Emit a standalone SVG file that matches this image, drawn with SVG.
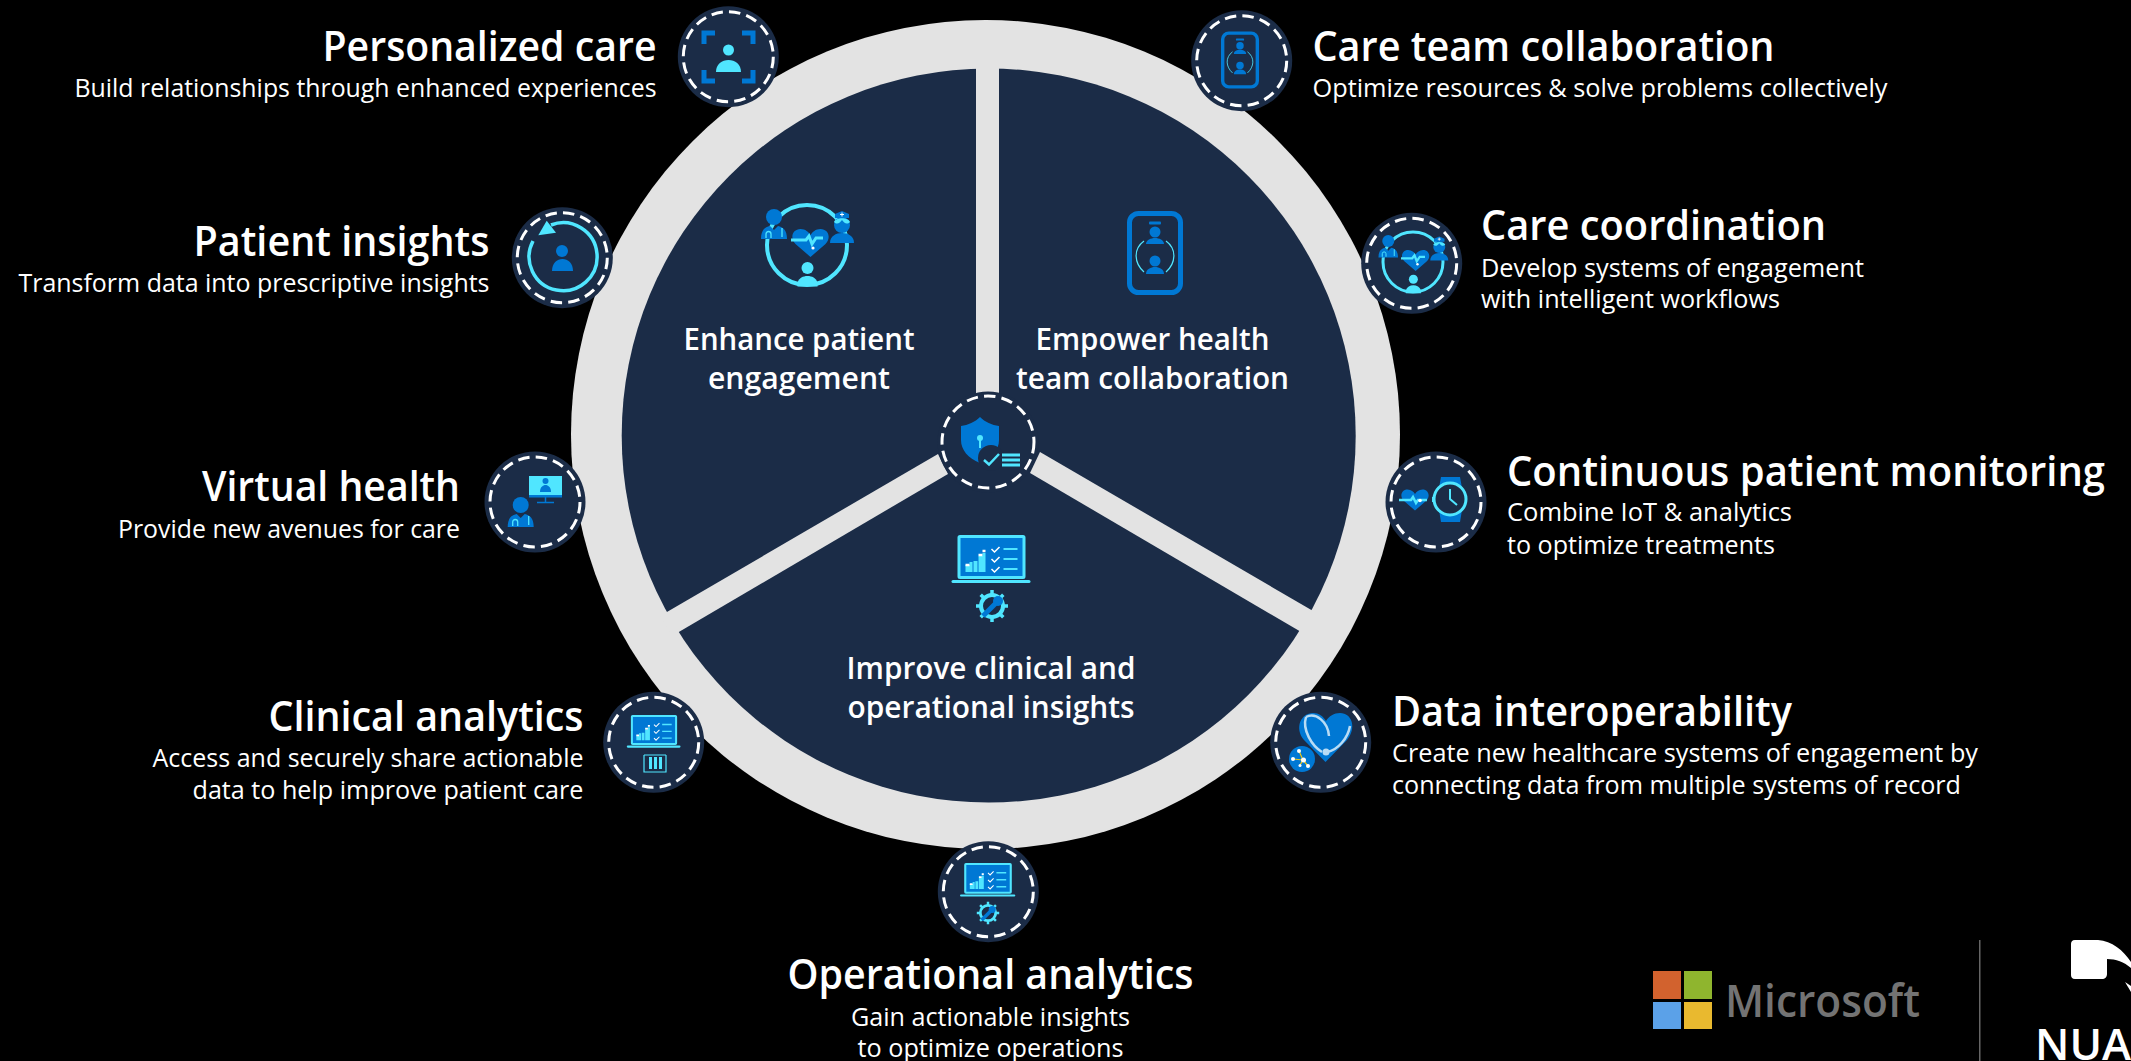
<svg xmlns="http://www.w3.org/2000/svg" width="2131" height="1061" viewBox="0 0 2131 1061">
<style>
text{font-family:"Open Sans","Noto Sans","Liberation Sans",sans-serif;fill:#fff}
.t{font-size:41px;font-weight:600}
.s{font-size:25.5px;font-weight:400}
.p{font-size:30px;font-weight:600}
.e{text-anchor:end}
.m{text-anchor:middle}
.bg{fill:#1b2c47}
.ds{fill:none;stroke:#fff;stroke-width:3;stroke-dasharray:11.5 6.2}
.c{fill:#50e6ff}
.b{fill:#0078d4}
.cl{fill:none;stroke:#50e6ff}
.bl{fill:none;stroke:#0078d4}
.w{fill:none;stroke:#fff;stroke-width:1.5}
</style>
<defs>
<g id="badge"><circle class="bg" r="50.5"/><circle class="ds" r="45"/></g>
<path id="heart" d="M0,14 L-15,1 C-21,-5 -18,-14 -10,-14 C-5,-14 -2,-11 0,-8 C2,-11 5,-14 10,-14 C18,-14 21,-5 15,1 Z"/>
<g id="doc">
<circle class="b" cy="-13" r="8"/>
<path class="b" d="M-13,9 C-13,0 -9,-3 -4,-4 L0,0 L4,-4 C9,-3 13,0 13,9 Z"/>
<path d="M-8,8 v-4 a2.500,2.500 0 0 1 5,0 v4 M8,-2 v9" fill="none" stroke="#50e6ff" stroke-width="1.300"/>
</g>
<g id="care">
<circle class="cl" r="40" stroke-width="4"/>
<use href="#doc" x="-33" y="-15"/>
<circle class="b" cx="35" cy="-20" r="8"/>
<path class="c" d="M27,-23 C29,-28 41,-28 43,-23 C40,-20 37,-22 35,-25 C33,-22 30,-20 27,-23 Z"/>
<path class="b" d="M28,-27 L28,-31 L35,-34 L42,-31 L42,-27 Z"/>
<path class="b" d="M23,-2 C23,-9 29,-12 35,-12 C41,-12 47,-9 47,-2 Z"/>
<path d="M33,-30.500 h4 M35,-32.500 v4" stroke="#fff" stroke-width="1"/>
<use href="#heart" class="b" x="3.500" y="-2"/>
<path d="M-16,-5 h15 l3,-4 l3,8 l4,-6 h7" fill="none" stroke="#50e6ff" stroke-width="3"/>
<circle cx="6" cy="3" r="1.600" fill="#fff"/>
<circle class="c" cx="0.500" cy="23" r="6"/>
<path class="c" d="M-9.500,41.500 v-4 C-8,33 -4,31 0.500,31 C5,31 9,33 10.500,37.500 v4 Z"/>
</g>
<g id="phone">
<rect class="bl" x="-25.500" y="-39.500" width="51" height="79" rx="9" stroke-width="5"/>
<rect class="b" x="-6" y="-31.500" width="12" height="3" rx="1"/>
<circle class="b" cy="-21" r="5.500"/>
<path class="b" d="M-9,-9 C-9,-13 -4,-15 0,-15 C4,-15 9,-13 9,-9 Z"/>
<circle class="b" cy="8" r="5.500"/>
<path class="b" d="M-9,21 C-9,16 -4,14 0,14 C4,14 9,16 9,21 Z"/>
<path class="cl" stroke-width="1.200" d="M-11,-12 C-22,-4 -21,10 -11,19 M11,-12 C22,-4 21,10 11,19"/>
</g>
<g id="gear">
<circle class="cl" r="11" stroke-width="4"/>
<path d="M0,-16V16M-16,0H16M-11.300,-11.300L11.300,11.300M-11.300,11.300L11.300,-11.300" class="cl" stroke-width="3.500" stroke-dasharray="5 22 5"/>
<path d="M9,-8 L-9,10" class="bl" stroke-width="5"/>
<circle class="b" cx="6" cy="-5" r="5"/>
</g>
<g id="laptop">
<rect class="b" x="-32.500" y="1.500" width="65" height="41" stroke="#50e6ff" stroke-width="3" rx="1"/>
<rect class="c" x="-40" y="45" width="79" height="3" rx="1.500"/>
<path class="c" d="M-26,37 v-7 h4 v-3 h3 v10 Z M-18,37 v-11 h4 V37 Z M-13,37 v-16 h4 v-3 h3 V37 Z"/>
<path d="M-26,30 h4 M-13,20 h4 M-9,16 h3" stroke="#fff" stroke-width="2.500"/>
<path d="M0,14 l3,3 l5,-5 M0,24 l3,3 l5,-5 M0,34 l3,3 l5,-5" class="w"/>
<path d="M12,14 h14 M12,24 h14 M12,34 h14" class="cl" stroke-width="2"/>
</g>
</defs>
<rect width="2131" height="1061" fill="#000"/>

<g id="wheel">
<circle cx="985.500" cy="434.500" r="414.500" fill="#e3e3e3"/>
<circle cx="988.700" cy="435.500" r="367" fill="#1b2c47"/>
<polygon points="976,60 999,60 999,400 976,400" fill="#e3e3e3"/>
<polygon points="1040,452 1320,615 1308,636 1030,473" fill="#e3e3e3"/>
<polygon points="938,454 948,474 672,636 660,616" fill="#e3e3e3"/>
</g>

<g id="panel-enhance">
<use href="#care" x="807" y="245"/>
<text class="p m" x="799" y="350" textLength="231" lengthAdjust="spacingAndGlyphs">Enhance patient</text>
<text class="p m" x="799" y="389" textLength="182" lengthAdjust="spacingAndGlyphs">engagement</text>
</g>
<g id="panel-empower">
<use href="#phone" x="1155" y="253"/>
<text class="p m" x="1152.500" y="350" textLength="234" lengthAdjust="spacingAndGlyphs">Empower health</text>
<text class="p m" x="1152.500" y="389" textLength="273" lengthAdjust="spacingAndGlyphs">team collaboration</text>
</g>
<g id="panel-improve">
<use href="#laptop" x="991.500" y="535"/>
<use href="#gear" x="992" y="606"/>
<text class="p m" x="991" y="679" textLength="289" lengthAdjust="spacingAndGlyphs">Improve clinical and</text>
<text class="p m" x="991" y="718" textLength="287" lengthAdjust="spacingAndGlyphs">operational insights</text>
</g>

<g id="hub">
<circle cx="988" cy="442" r="50.500" class="bg"/>
<circle cx="988" cy="442" r="46" class="ds"/>
<path class="b" d="M980,417 C985,422 992,425 999,426 V440 C999,450 992,458 980,463 C968,458 961,450 961,440 V426 C968,425 975,422 980,417 Z"/>
<circle cx="991" cy="458" r="13" class="bg"/>
<circle class="c" cx="980" cy="438" r="3"/>
<rect class="c" x="979" y="439" width="2" height="9"/>
<path d="M984,460 l5,4.500 l10,-10.500" class="cl" stroke-width="2.500"/>
<path d="M1002,455 h18 M1002,460 h18 M1002,465 h18" class="cl" stroke-width="3"/>
</g>

<g id="node-personalized">
<use href="#badge" x="728.300" y="56.700"/>
<path d="M704,44 V33 H715 M742,33 H753 V44 M704,70 V81 H715 M742,81 H753 V70" class="bl" stroke-width="5"/>
<circle class="c" cx="728.500" cy="50" r="5.500"/>
<path class="c" d="M716,72 C716,64 722,60 728.500,60 C735,60 741,64 741,72 Z"/>
<text class="t e" x="656.500" y="61" textLength="334" lengthAdjust="spacingAndGlyphs">Personalized care</text>
<text class="s e" x="656.500" y="97" textLength="582" lengthAdjust="spacingAndGlyphs">Build relationships through enhanced experiences</text>
</g>
<g id="node-patient-insights">
<use href="#badge" x="562.300" y="257.700"/>
<path d="M551,225 A34,34 0 1 1 533,241" class="cl" stroke-width="3.500"/>
<polygon class="c" points="546.700,220.700 538.300,235.300 556,232.700"/>
<circle class="b" cx="562" cy="251" r="6"/>
<path class="b" d="M552,271 C552,263 557,259 562.500,259 C568,259 573,263 573,271 Z"/>
<text class="t e" x="489.500" y="256" textLength="296" lengthAdjust="spacingAndGlyphs">Patient insights</text>
<text class="s e" x="489.500" y="292" textLength="471" lengthAdjust="spacingAndGlyphs">Transform data into prescriptive insights</text>
</g>
<g id="node-virtual-health">
<use href="#badge" x="535" y="502"/>
<rect class="c" x="529" y="476" width="33" height="19"/>
<rect class="b" x="529" y="495" width="33" height="2.500"/>
<path d="M545.500,497 v5 M537,502.500 h17" class="bl" stroke-width="1.500"/>
<circle class="b" cx="545.500" cy="481" r="3"/>
<path class="b" d="M540,492 C540,487 543,485 545.500,485 C548,485 551,487 551,492 Z"/>
<use href="#doc" x="520.700" y="518"/>
<text class="t e" x="460" y="501" textLength="258" lengthAdjust="spacingAndGlyphs">Virtual health</text>
<text class="s e" x="460" y="538" textLength="342" lengthAdjust="spacingAndGlyphs">Provide new avenues for care</text>
</g>
<g id="node-clinical-analytics">
<use href="#badge" x="653.700" y="742.300"/>
<use href="#laptop" transform="translate(654,715) scale(.68)"/>
<path d="M644,755 V772 H666 V755 M644,755 h22" class="cl" stroke-width="1.200"/>
<path class="c" d="M649,757 h3 v12 h-3 Z M654,757 h3 v12 h-3 Z M659,757 h3 v12 h-3 Z"/>
<text class="t e" x="583.500" y="731" textLength="315" lengthAdjust="spacingAndGlyphs">Clinical analytics</text>
<text class="s e" x="583.500" y="767" textLength="431" lengthAdjust="spacingAndGlyphs">Access and securely share actionable</text>
<text class="s e" x="583.500" y="799" textLength="391" lengthAdjust="spacingAndGlyphs">data to help improve patient care</text>
</g>
<g id="node-care-team">
<use href="#badge" x="1241.700" y="60.700"/>
<use href="#phone" transform="translate(1240,60) scale(.68)"/>
<text class="t" x="1312.500" y="61" textLength="462" lengthAdjust="spacingAndGlyphs">Care team collaboration</text>
<text class="s" x="1312.500" y="97" textLength="575" lengthAdjust="spacingAndGlyphs">Optimize resources &amp; solve problems collectively</text>
</g>
<g id="node-care-coordination">
<use href="#badge" x="1411.700" y="263.300"/>
<use href="#care" transform="translate(1413,262) scale(.75)"/>
<text class="t" x="1481" y="240" textLength="345" lengthAdjust="spacingAndGlyphs">Care coordination</text>
<text class="s" x="1481" y="277" textLength="383" lengthAdjust="spacingAndGlyphs">Develop systems of engagement</text>
<text class="s" x="1481" y="308" textLength="299" lengthAdjust="spacingAndGlyphs">with intelligent workflows</text>
</g>
<g id="node-continuous-monitoring">
<use href="#badge" x="1436" y="502"/>
<use href="#heart" class="b" transform="translate(1415,500) scale(.75)"/>
<path d="M1399,500 h12 l2,-3 l3,6 l2,-3 h9" class="cl" stroke-width="2.500"/>
<circle cx="1420" cy="500.500" r="1.800" fill="#fff"/>
<path class="b" d="M1441,477 H1460 L1462,488 H1439 Z M1439,510 H1462 L1460,522 H1441 Z"/>
<circle cx="1450" cy="499" r="16" fill="#1b2c47" stroke="#50e6ff" stroke-width="3"/>
<path d="M1450,489 V499 L1457,505" class="cl" stroke-width="2"/>
<rect class="c" x="1432" y="497" width="3" height="5"/>
<text class="t" x="1507" y="486" textLength="598" lengthAdjust="spacingAndGlyphs">Continuous patient monitoring</text>
<text class="s" x="1507" y="521" textLength="285" lengthAdjust="spacingAndGlyphs">Combine IoT &amp; analytics</text>
<text class="s" x="1507" y="554" textLength="268" lengthAdjust="spacingAndGlyphs">to optimize treatments</text>
</g>
<g id="node-data-interoperability">
<use href="#badge" x="1320.700" y="742.300"/>
<path class="b" d="M1325.500,762 L1304,740 C1294,728 1301,713 1313,713 C1319,713 1323,716 1326,721 C1329,716 1334,713 1340,713 C1352,713 1357,728 1347,740 Z"/>
<path d="M1306,717 C1302,730 1312,746 1322,752 M1306,717 C1316,712 1328,722 1329,736 M1327,752 C1338,750 1348,738 1350,726" fill="none" stroke="#b8dcf5" stroke-width="2.500"/>
<circle cx="1326" cy="752" r="3.500" fill="#b8dcf5"/>
<circle class="b" cx="1302" cy="759" r="13"/>
<path d="M1303,760 L1299,751 M1303,760 L1293,759 M1303,760 L1308,766 M1303,760 L1300,765" stroke="#f2c811" stroke-width="1.200"/>
<g fill="#fff"><circle cx="1303.500" cy="760" r="2.500"/><circle cx="1299" cy="751" r="2"/><circle cx="1293" cy="759" r="2"/><circle cx="1308" cy="766" r="2"/><circle cx="1300" cy="765.500" r="1.500"/></g>
<text class="t" x="1392" y="726" textLength="400" lengthAdjust="spacingAndGlyphs">Data interoperability</text>
<text class="s" x="1392" y="762" textLength="586" lengthAdjust="spacingAndGlyphs">Create new healthcare systems of engagement by</text>
<text class="s" x="1392" y="794" textLength="569" lengthAdjust="spacingAndGlyphs">connecting data from multiple systems of record</text>
</g>
<g id="node-operational-analytics">
<use href="#badge" x="988.300" y="891.700"/>
<use href="#laptop" transform="translate(988,863) scale(.7)"/>
<use href="#gear" transform="translate(988,913) scale(.7)"/>
<text class="t m" x="990.500" y="989" textLength="406" lengthAdjust="spacingAndGlyphs">Operational analytics</text>
<text class="s m" x="990.500" y="1026" textLength="279" lengthAdjust="spacingAndGlyphs">Gain actionable insights</text>
<text class="s m" x="990.500" y="1057" textLength="266" lengthAdjust="spacingAndGlyphs">to optimize operations</text>
</g>

<g id="logos">
<rect x="1653" y="971" width="28" height="28" fill="#d2622e"/>
<rect x="1684" y="971" width="28" height="28" fill="#8fb52e"/>
<rect x="1653" y="1002" width="28" height="27" fill="#5ba1e8"/>
<rect x="1684" y="1002" width="28" height="27" fill="#e9b92f"/>
<text x="1725" y="1017" font-size="46" font-weight="600" style="fill:#737373" textLength="195" lengthAdjust="spacingAndGlyphs">Microsoft</text>
<rect x="1979" y="940" width="1.500" height="121" fill="#666"/>
<path d="M2075,940 H2098 C2112,941 2123,950 2131,962 V968 C2124,962 2116,959 2107,959 V974 C2107,977 2105,979 2102,979 H2075 C2072,979 2071,977 2071,975 V944 C2071,942 2072,940 2075,940 Z" fill="#fff"/>
<path d="M2125,982 L2131,986 V992 Z" fill="#fff"/>
<text x="2035" y="1060" font-size="44" font-weight="600" textLength="96" lengthAdjust="spacingAndGlyphs">NUA</text>
</g>
</svg>
